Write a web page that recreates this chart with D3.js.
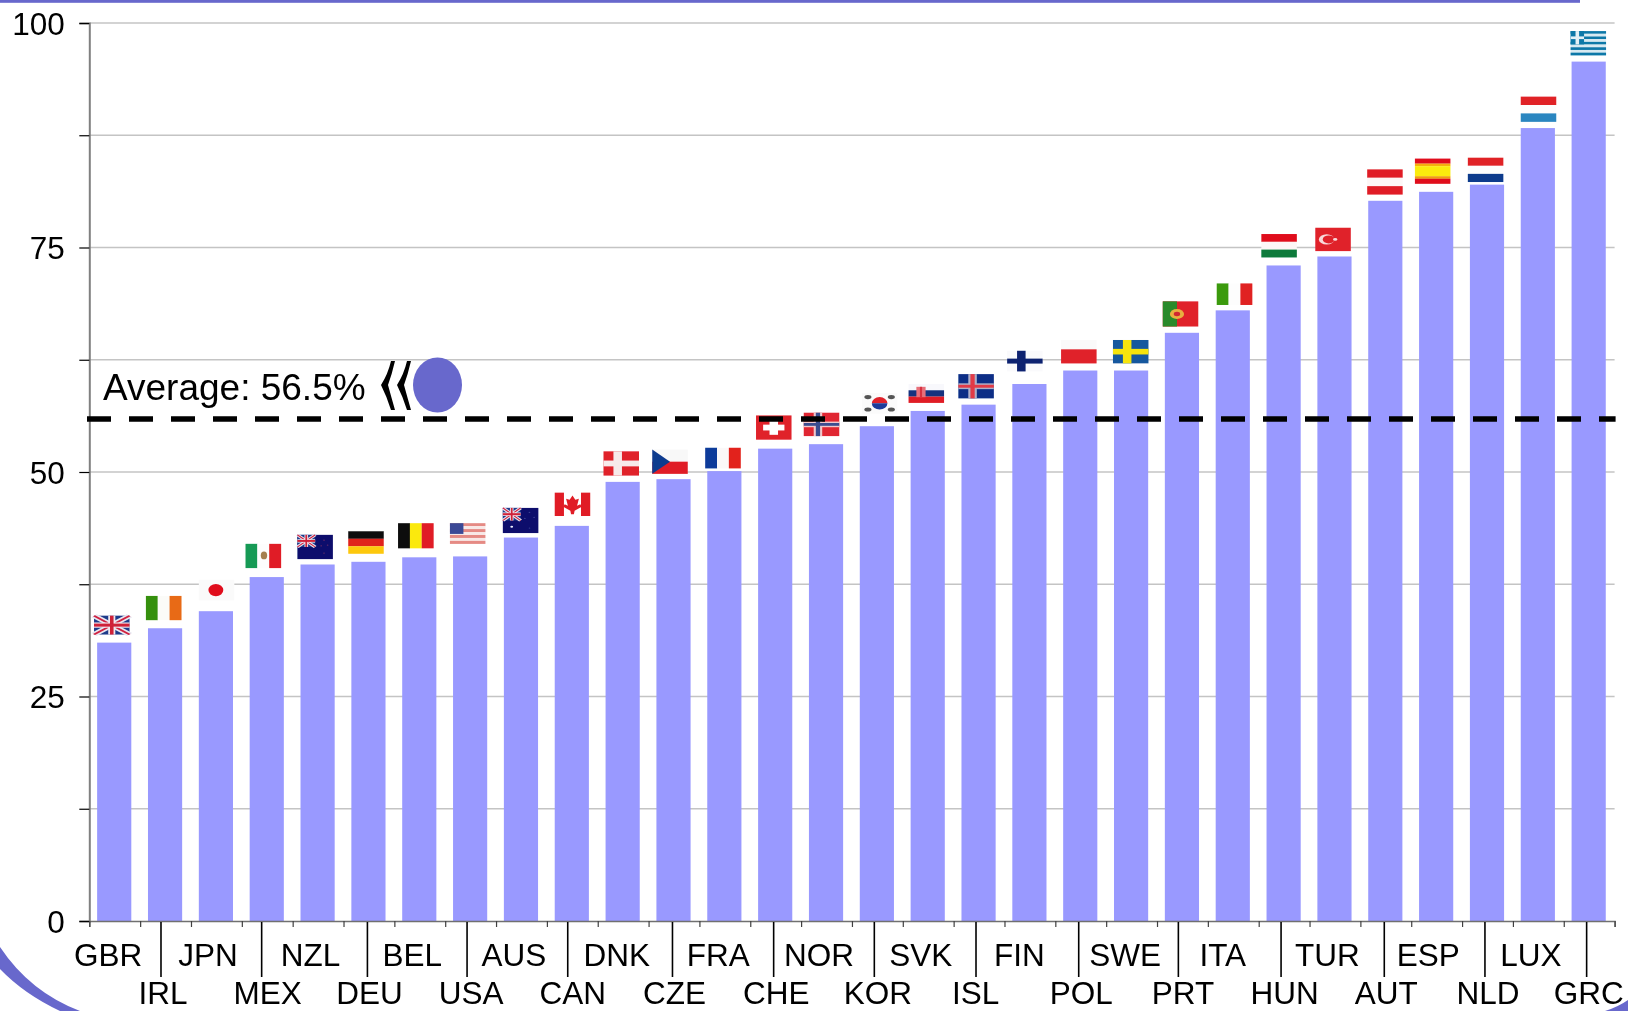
<!DOCTYPE html>
<html><head><meta charset="utf-8">
<script src="https://cdn.jsdelivr.net/npm/d3@7"></script>
<style>
html,body{margin:0;padding:0;background:#fff;overflow:hidden}
svg{display:block}
text{font-family:"Liberation Sans",Arial,sans-serif;fill:#000}
</style></head><body>
<svg id="c" width="1628" height="1011"></svg>
<script>
const countries=["GBR","IRL","JPN","MEX","NZL","DEU","BEL","USA","AUS","CAN","DNK","CZE","FRA","CHE","NOR","KOR","SVK","ISL","FIN","POL","SWE","PRT","ITA","HUN","TUR","AUT","ESP","NLD","LUX","GRC"];
const values=[31.0,32.6,34.5,38.3,39.7,40.0,40.5,40.6,42.7,44.0,48.9,49.2,50.1,52.6,53.1,55.1,56.8,57.5,59.8,61.3,61.3,65.5,68.0,73.0,74.0,80.2,81.2,82.0,88.3,95.7];
const flagTops=[34.0,36.2,38.0,42.0,43.0,43.4,44.3,44.3,46.0,47.7,52.3,52.5,52.7,56.3,56.6,58.8,59.8,60.9,63.5,64.7,64.7,69.0,71.0,76.5,77.2,83.7,84.9,85.0,91.8,99.1];
const flagBottoms=[31.9,33.5,35.7,39.3,40.3,40.9,41.5,42.0,43.2,45.1,49.6,49.8,50.4,53.6,54.0,56.5,57.7,58.2,61.2,62.1,62.1,66.2,68.6,73.9,74.6,80.9,82.1,82.3,89.0,96.4];
const flagShifts=[-3,-2,0,-4,-3,-3,-4,-3,-1,0,-2,-4,-2,-2,-5,2,-2,-3,-5,-2,-1,-2,1,-5,-2,-1,-4,-2,0,-1];
const labelShifts=[-6,-2,-8,1,-7,1,-7,1,-7,1,-6,1,-6,1,-7,1,-7,-3,-10,1,-6,1,-10,1,-7,1,-8,1,-7,0];
const yTicks=[0,12.5,25,37.5,50,62.5,75,87.5,100];
const yLabelled=[0,25,50,75,100];
const averageDrawn=55.9;
const averageLabel="Average: 56.5%";
const separators=[1.41,3.39,5.47,7.43,9.41,11.47,13.46,15.44,17.44,19.46,21.42,23.44,25.47,27.45,29.45];

const svg=d3.select("#c");
const L=89.3,R=1614.6,Y0=921,Y100=23;
const x=d3.scaleBand().domain(countries).range([L,R]).paddingInner(.328).paddingOuter(.164).align(.47);
const xEdge=d3.scaleLinear().domain([0,30]).range([L,R]);
const y=d3.scaleLinear().domain([0,100]).range([Y0,Y100]);
const BLUE="#6868cc";

// frame
svg.append("rect").attr("x",0).attr("y",0).attr("width",1580).attr("height",2.8).attr("fill",BLUE);
svg.append("path").attr("fill",BLUE).attr("d","M0,947 Q30,992 80,1011 L60,1011 Q24,994 0,969 Z");
svg.append("path").attr("fill",BLUE).attr("d","M1605,1011 Q1618,1007 1628,1000 L1628,1011 Z");

// grid
svg.append("g").selectAll("line").data(yTicks.filter(d=>d>0)).join("line")
  .attr("x1",L).attr("x2",R).attr("y1",d=>y(d)).attr("y2",d=>y(d))
  .attr("stroke","#c4c4c4").attr("stroke-width",1.3);

// bars
svg.append("g").selectAll("rect").data(countries).join("rect")
  .attr("x",d=>x(d)).attr("width",x.bandwidth())
  .attr("y",(d,i)=>y(values[i])).attr("height",(d,i)=>Y0-y(values[i]))
  .attr("fill","#9999ff");

// flags
const defs=svg.append("defs");
defs.append("filter").attr("id","soft").attr("x","-5%").attr("y","-5%").attr("width","110%").attr("height","110%")
  .append("feGaussianBlur").attr("stdDeviation",.6);
function R_(g,a,b,w,h,c){g.append("rect").attr("x",a).attr("y",b).attr("width",w).attr("height",h).attr("fill",c);}
function hs(g,cs,ws){const t=d3.sum(ws||cs.map(()=>1));let p=0;cs.forEach((c,i)=>{const w=(ws?ws[i]:1)*100/t;R_(g,0,p,100,w+.3,c);p+=w;});}
function vs(g,cs){cs.forEach((c,i)=>R_(g,i*100/cs.length,0,100/cs.length+.3,100,c));}
function nordic(g,bg,c1,c2){R_(g,0,0,100,100,bg);R_(g,28,0,24,100,c1);R_(g,0,38,100,24,c1);if(c2){R_(g,34,0,12,100,c2);R_(g,0,44,100,12,c2);}}
function jack(g,w,h){R_(g,0,0,w,h,"#1f3a8a");
  g.append("path").attr("d",`M0,0L${w},${h}M${w},0L0,${h}`).attr("stroke","#e8e8f0").attr("stroke-width",Math.min(w,h)*.22);
  g.append("path").attr("d",`M0,0L${w},${h}M${w},0L0,${h}`).attr("stroke","#d02040").attr("stroke-width",Math.min(w,h)*.08);
  R_(g,w*.4,0,w*.2,h,"#f0e8ee");R_(g,0,h*.36,w,h*.28,"#f0e8ee");R_(g,w*.45,0,w*.1,h,"#cf2038");R_(g,0,h*.42,w,h*.16,"#cf2038");}
function stars(g,pts,c){pts.forEach(p=>g.append("circle").attr("cx",p[0]).attr("cy",p[1]).attr("r",p[2]||2.5).attr("fill",c));}
const flagDraw={
 GBR:g=>jack(g,100,100),
 IRL:g=>vs(g,["#359010","#fbfbf8","#e86a14"]),
 JPN:g=>{R_(g,0,0,100,100,"#fafafa");g.append("ellipse").attr("cx",48).attr("cy",50).attr("rx",21).attr("ry",30).attr("fill","#e0101f");},
 MEX:g=>{vs(g,["#169a55","#fdfdfd","#e01f26"]);g.append("ellipse").attr("cx",52).attr("cy",48).attr("rx",9).attr("ry",16).attr("fill","#a58050");},
 NZL:g=>{R_(g,0,0,100,100,"#0a0f6c");jack(g,50,50);stars(g,[[75,22],[67,45],[85,42],[75,75]],"#6a2a6a");},
 DEU:g=>hs(g,["#0c0c0c","#e0201a","#fdc80f"]),
 BEL:g=>vs(g,["#0c0c0c","#fbe910","#e01f26"]),
 USA:g=>{hs(g,["#e58a84","#f8e8e6","#e58a84","#f8e8e6","#e58a84","#f8e8e6","#e58a84"]);R_(g,0,0,38,52,"#3a4a96");},
 AUS:g=>{R_(g,0,0,100,100,"#0a0f6c");jack(g,50,50);stars(g,[[25,75,4]],"#f0f0ff");stars(g,[[75,18],[62,42],[88,38],[75,80]],"#3a3a90");},
 CAN:g=>{R_(g,0,0,100,100,"#fff");R_(g,0,0,26,100,"#e01f26");R_(g,74,0,26,100,"#e01f26");
   g.append("path").attr("d","M50,12L58,30L68,26L63,56L72,50L76,60L56,78L54,92L46,92L44,78L24,60L28,50L37,56L32,26L42,30Z").attr("fill","#e01f26");},
 DNK:g=>nordic(g,"#e0202a","#f7eaea"),
 CZE:g=>{hs(g,["#f8f8f8","#e01f26"]);g.append("path").attr("d","M0,0L50,50L0,100Z").attr("fill","#113a8e");},
 FRA:g=>vs(g,["#0a3a9a","#fbf8f8","#e2241a"]),
 CHE:g=>{R_(g,0,0,100,100,"#e0202a");R_(g,38,20,24,60,"#fff");R_(g,20,38,60,24,"#fff");},
 NOR:g=>{nordic(g,"#e02830","#f0c8cc","#3a4e90");},
 KOR:g=>{R_(g,0,0,100,100,"#fbfbfb");
   g.append("path").attr("d","M28,50A22,30 0 0 1 72,50Z").attr("fill","#e0202a");
   g.append("path").attr("d","M28,50A22,30 0 0 0 72,50Z").attr("fill","#1a3a9a");
   stars(g,[[17,20,10],[83,20,10],[17,80,10],[83,80,10]],"#555");},
 SVK:g=>{hs(g,["#f8f8fc","#13307e","#e01f26"]);R_(g,22,15,26,55,"#e8707a");R_(g,32,15,6,55,"#d83040");},
 ISL:g=>nordic(g,"#0a2e86","#b0b0c8","#e23a46"),
 FIN:g=>nordic(g,"#fafafc","#0c2270"),
 POL:g=>hs(g,["#fafafa","#e0202a"],[4,6]),
 SWE:g=>nordic(g,"#14589e","#f6e410"),
 PRT:g=>{R_(g,0,0,100,100,"#e0202a");R_(g,0,0,40,100,"#2a8a2a");g.append("circle").attr("cx",40).attr("cy",50).attr("r",20).attr("fill","#e8b040");g.append("circle").attr("cx",40).attr("cy",50).attr("r",9).attr("fill","#d02830");},
 ITA:g=>vs(g,["#3a9a10","#fdfdfd","#e02020"]),
 HUN:g=>hs(g,["#e0101a","#fdf6f6","#0a7a3a"]),
 TUR:g=>{R_(g,0,0,100,100,"#e0202a");g.append("circle").attr("cx",32).attr("cy",50).attr("r",22).attr("fill","#f8dada");g.append("circle").attr("cx",38).attr("cy",50).attr("r",17).attr("fill","#e0202a");stars(g,[[56,50,6]],"#f8dada");},
 AUT:g=>hs(g,["#e01f26","#fdf6f6","#e01f26"]),
 ESP:g=>hs(g,["#e0101a","#f6b010","#fbec10","#f0a010","#e0101a"],[2,1,4,1,2]),
 NLD:g=>hs(g,["#e02026","#fdfdfd","#0c3a8c"]),
 LUX:g=>hs(g,["#e02026","#fdfdfd","#2a86c0"]),
 GRC:g=>{hs(g,["#1078a8","#d8eaf2","#1078a8","#d8eaf2","#1078a8","#d8eaf2","#1078a8","#d8eaf2","#1078a8"]);R_(g,0,0,38,55,"#1078a8");R_(g,14,0,10,55,"#e4f0f6");R_(g,0,22,38,11,"#e4f0f6");}
};
const FW=35.5;
const fg=svg.append("g").attr("filter","url(#soft)");
countries.forEach((c,i)=>{
  const t=y(flagTops[i]),b=y(flagBottoms[i]);
  const g=fg.append("g").attr("transform",`translate(${x(c)+flagShifts[i]*1.038},${t}) scale(${FW/100},${(b-t)/100})`);
  flagDraw[c](g);
});

// axes
const ya=d3.axisLeft(y).tickValues(yTicks).tickSize(10).tickPadding(14.5)
  .tickFormat(d=>yLabelled.includes(d)?d:"");
const gy=svg.append("g").attr("transform",`translate(${L},0)`).call(ya);
gy.select(".domain").attr("stroke","#808080").attr("stroke-width",2);
gy.selectAll(".tick line").attr("stroke","#000").attr("stroke-width",1.2);
gy.selectAll("text").attr("font-size",31.5).attr("font-family",'"Liberation Sans",Arial,sans-serif').attr("fill","#000").attr("dy",".36em");

const xa=d3.axisBottom(xEdge).tickValues(d3.range(31)).tickSize(6).tickFormat("");
const gx=svg.append("g").attr("transform",`translate(0,${Y0})`).call(xa);
gx.select(".domain").attr("stroke","#707070").attr("stroke-width",1.4);
gx.selectAll(".tick line").attr("stroke","#404040").attr("stroke-width",1.2);

svg.append("g").selectAll("line").data(separators).join("line")
  .attr("x1",d=>xEdge(d)).attr("x2",d=>xEdge(d)).attr("y1",Y0+1).attr("y2",977)
  .attr("stroke","#000").attr("stroke-width",1.6);

svg.append("g").selectAll("text").data(countries).join("text")
  .attr("x",(d,i)=>x(d)+x.bandwidth()/2+labelShifts[i])
  .attr("y",(d,i)=>i%2?1004.2:966)
  .attr("text-anchor","middle").attr("font-size",31.5).text(d=>d);

// average line
svg.append("line").attr("x1",87).attr("x2",R+1).attr("y1",y(averageDrawn)).attr("y2",y(averageDrawn))
  .attr("stroke","#000").attr("stroke-width",5.5).attr("stroke-dasharray","24 18");
svg.append("text").attr("x",103).attr("y",400).attr("font-size",37).text(averageLabel);

// logo
svg.append("ellipse").attr("cx",437.5).attr("cy",385).attr("rx",24.5).attr("ry",27.5).attr("fill",BLUE);
const chev=svg.append("g").attr("filter","url(#soft)");
[392,408].forEach(a=>{
  chev.append("path").attr("fill","#000")
   .attr("d",`M${a-1},361 Q${a-4},374 ${a-11},385 Q${a-5},397 ${a-1},410 L${a+3},410 Q${a-1},396 ${a-4},385 Q${a},374 ${a+3},361 Z`);
});
</script>
</body></html>
